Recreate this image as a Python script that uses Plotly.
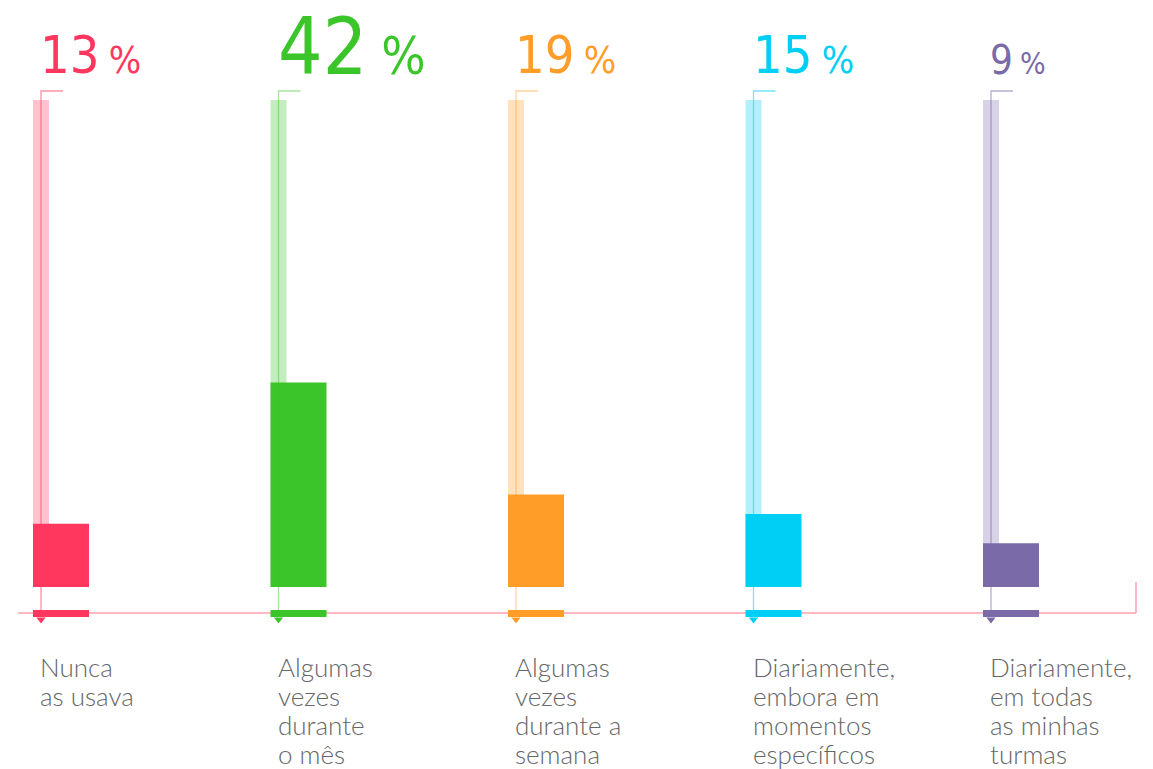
import plotly.graph_objects as go

# --- data ---
categories = [
    "Nunca<br>as usava",
    "Algumas<br>vezes<br>durante<br>o mês",
    "Algumas<br>vezes<br>durante a<br>semana",
    "Diariamente,<br>embora em<br>momentos<br>específicos",
    "Diariamente,<br>em todas<br>as minhas<br>turmas",
]
percentages = [13, 42, 19, 15, 9]
full_scale = [100, 100, 100, 100, 100]

solid_colors = ["#ff375e", "#3bc52b", "#ff9d28", "#00cff5", "#7a6aa8"]
pale_colors = ["rgba(255,55,94,0.30)", "rgba(59,197,43,0.30)", "rgba(255,157,40,0.30)",
               "rgba(0,207,245,0.30)", "rgba(122,106,168,0.30)"]
line_colors = ["rgba(255,55,94,0.55)", "rgba(59,197,43,0.45)", "rgba(255,157,40,0.45)",
               "rgba(0,207,245,0.55)", "rgba(122,106,168,0.55)"]
num_sizes = [52, 78, 52, 52, 40]
pct_sizes = [38, 52, 38, 38, 30]

NUM_FONT = "Liberation Sans Narrow, DejaVu Sans Condensed, Roboto Condensed, Liberation Sans"
LABEL_FONT = "Lato Light, Lato"

# --- geometry (pixels) ---
W, H = 1153, 769
X0, DX = 61, 237.5          # first bar centre, spacing
BASE_PX, PX_PER = 587, 4.87  # baseline and pixels per percent


def ux(px):  # pixel width -> x units
    return px / DX


def uy(px_y):  # pixel row -> y value
    return (BASE_PX - px_y) / PX_PER


idx = list(range(len(categories)))
L = ux(-20)  # offset of the guide line from bar centre
axis_v = uy(613)
top_v = uy(91)

fig = go.Figure()

# pale full-height bars
fig.add_trace(go.Bar(x=idx, y=full_scale, width=ux(16), offset=ux(-28),
                     marker=dict(color=pale_colors, line_width=0), hoverinfo="skip"))

# thin guide lines with a small hook at the top
for i in idx:
    fig.add_trace(go.Scatter(x=[i + L, i + L, i + L + ux(22)], y=[axis_v, top_v, top_v],
                             mode="lines", line=dict(color=line_colors[i], width=1.3),
                             hoverinfo="skip"))

# value bars
fig.add_trace(go.Bar(x=idx, y=percentages, width=ux(56), offset=ux(-28),
                     marker=dict(color=solid_colors, line_width=0), hoverinfo="skip"))

# strips on the axis
fig.add_trace(go.Bar(x=idx, y=[7 / PX_PER] * 5, base=uy(617), width=ux(56), offset=ux(-28),
                     marker=dict(color=solid_colors, line_width=0), hoverinfo="skip"))

# small pointers under the strips
fig.add_trace(go.Scatter(x=[i + L for i in idx], y=[uy(619.5)] * 5, mode="markers",
                         marker=dict(symbol="triangle-down", size=8, color=solid_colors,
                                     line_width=0), hoverinfo="skip"))

# axis line with an upturned end
fig.add_shape(type="line", layer="below", x0=ux(18 - X0), x1=ux(1136 - X0), y0=axis_v, y1=axis_v,
              line=dict(color="#ff9fb1", width=1.5))
fig.add_shape(type="line", layer="below", x0=ux(1136 - X0), x1=ux(1136 - X0), y0=axis_v, y1=uy(582),
              line=dict(color="#ff9fb1", width=1.5))

# percentage labels
for i in idx:
    fig.add_annotation(
        x=i + L, y=uy(75), xanchor="left", yanchor="bottom", showarrow=False,
        text=(f"<span style='font-stretch:condensed'>{percentages[i]}\u2009"
              f"<span style='font-size:{pct_sizes[i]}px'>%</span></span>"),
        font=dict(family=NUM_FONT, size=num_sizes[i], color=solid_colors[i]),
        xshift=-3, yshift=-num_sizes[i] * 0.24,
    )

# category labels, one annotation per line for tight line spacing
LINE_GAP = 29
for i in idx:
    for k, line in enumerate(categories[i].split("<br>")):
        fig.add_annotation(
            x=i + L, y=uy(667 + k * LINE_GAP), xanchor="left", yanchor="middle",
            showarrow=False, text=line, xshift=-3,
            font=dict(family=LABEL_FONT, size=26, color="#666666", weight=300),
        )

fig.update_layout(
    width=W, height=H, margin=dict(l=0, r=0, t=0, b=0),
    paper_bgcolor="white", plot_bgcolor="white", showlegend=False, barmode="overlay",
    xaxis=dict(range=[ux(-X0), ux(W - X0)], visible=False, fixedrange=True),
    yaxis=dict(range=[uy(H), uy(0)], visible=False, fixedrange=True),
)

fig.write_html("out.html")
